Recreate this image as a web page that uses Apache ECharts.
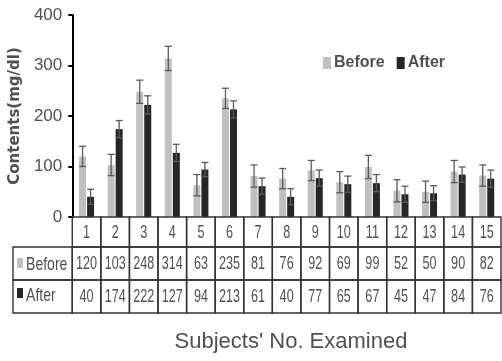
<!DOCTYPE html>
<html>
<head>
<meta charset="utf-8">
<script src="https://cdn.jsdelivr.net/npm/echarts@6/dist/echarts.min.js"></script>
<style>html,body{margin:0;padding:0;background:#fff;}#c{width:502px;height:361px;}</style>
</head>
<body>
<div id="c"></div>
<script>
const categories = ['1','2','3','4','5','6','7','8','9','10','11','12','13','14','15'];
const beforeValues = [120,103,248,314,63,235,81,76,92,69,99,52,50,90,82];
const afterValues = [40,174,222,127,94,213,61,40,77,65,67,45,47,84,76];
const beforeErrors = [20,21,23,24,21,20,22,20,20,21,23,22,21,22,21];
const afterErrors = [15,17,18,17,14,17,16,16,16,16,17,16,15,15,17];
const seriesNames = ['Before','After'];
const yMin = 0, yMax = 400, yInterval = 100;

const FONT = '"Liberation Sans", Arial, sans-serif';
const TXT = '#505050';
const BEFORE_COLOR = '#c0c0c0';
const AFTER_COLOR = '#262626';
const ERR_COLOR = '#5a5a5a';
const BORDER = '#333';

function errorSeries(name, values, errs, offset) {
  return {
    type: 'custom', name: name, silent: true, z: 5, clip: false,
    data: values.map((v, i) => [i, v - errs[i], v + errs[i]]),
    encode: { x: 0, y: [1, 2] },
    renderItem: function (params, api) {
      const i = api.value(0);
      const lo = api.coord([i, api.value(1)]);
      const hi = api.coord([i, api.value(2)]);
      const x = lo[0] + offset;
      const hw = 3.5;
      const st = { stroke: ERR_COLOR, lineWidth: 1.3 };
      return { type: 'group', children: [
        { type: 'line', shape: { x1: x, y1: lo[1], x2: x, y2: hi[1] }, style: st },
        { type: 'line', shape: { x1: x - hw, y1: lo[1], x2: x + hw, y2: lo[1] }, style: st },
        { type: 'line', shape: { x1: x - hw, y1: hi[1], x2: x + hw, y2: hi[1] }, style: st }
      ]};
    }
  };
}

function cellText(t, x, y, size, sx, align) {
  return {
    type: 'text', x: x, y: y, scaleX: sx, scaleY: 1,
    style: { text: t, x: 0, y: 0, align: align || 'center', verticalAlign: 'middle',
      fill: TXT, fontSize: size, fontFamily: FONT }
  };
}

const tableSeries = {
  type: 'custom', name: 'table', silent: true, clip: false, z: 4,
  data: categories.map((c, i) => [i, 0]),
  encode: { x: 0, y: 1 },
  renderItem: function (params, api) {
    const i = api.value(0);
    const base = api.coord([i, 0]);
    const w = api.size([1, 0])[0];
    const x0 = base[0] - w / 2;
    const y0 = base[1];
    const rows = [y0, y0 + 30, y0 + 63, y0 + 96];
    const cellStyle = { stroke: BORDER, lineWidth: 1.4, fill: null };
    const ch = [];
    for (let r = 0; r < 3; r++) {
      ch.push({ type: 'rect', shape: { x: x0, y: rows[r], width: w, height: rows[r + 1] - rows[r] }, style: cellStyle });
    }
    ch.push(cellText(categories[i], base[0], (rows[0] + rows[1]) / 2 + 1, 18, 0.7));
    ch.push(cellText(String(beforeValues[i]), base[0], (rows[1] + rows[2]) / 2 + 1, 18, 0.7));
    ch.push(cellText(String(afterValues[i]), base[0], (rows[2] + rows[3]) / 2 + 1, 18, 0.7));
    if (i === 0) {
      const lx = 13;
      for (let r = 1; r < 3; r++) {
        ch.push({ type: 'rect', shape: { x: lx, y: rows[r], width: x0 - lx, height: rows[r + 1] - rows[r] }, style: cellStyle });
      }
      ch.push({ type: 'rect', shape: { x: 17, y: rows[1] + 11, width: 6, height: 10 }, style: { fill: BEFORE_COLOR } });
      ch.push({ type: 'rect', shape: { x: 17, y: rows[2] + 8, width: 6, height: 10 }, style: { fill: AFTER_COLOR } });
      ch.push(cellText(seriesNames[0], 26, (rows[1] + rows[2]) / 2 + 1, 19, 0.74, 'left'));
      ch.push(cellText(seriesNames[1], 26, (rows[2] + rows[3]) / 2 - 1, 19, 0.74, 'left'));
    }
    return { type: 'group', children: ch };
  }
};

const chart = echarts.init(document.getElementById('c'), null, { renderer: 'canvas' });
chart.setOption({
  animation: false,
  backgroundColor: '#fff',
  textStyle: { fontFamily: FONT },
  title: {
    text: "Subjects' No. Examined", left: 286, top: 326, textAlign: 'center',
    textStyle: { color: TXT, fontSize: 22, fontWeight: 'normal', fontFamily: FONT }
  },
  legend: {
    data: seriesNames, left: 318, top: 50, itemWidth: 8, itemHeight: 12, itemGap: 12,
    icon: 'rect', textStyle: { color: TXT, fontSize: 16, fontWeight: 'bold', fontFamily: FONT, padding: [0, 0, 0, -2] }
  },
  grid: { left: 72, right: 1, top: 15, bottom: 144, containLabel: false },
  xAxis: {
    type: 'category', data: categories,
    axisLine: { show: false }, axisTick: { show: false }, axisLabel: { show: false }
  },
  yAxis: {
    type: 'value', min: yMin, max: yMax, interval: yInterval,
    name: 'Contents(mg/dl)', nameLocation: 'middle', nameGap: 46, nameRotate: 90,
    nameTextStyle: { color: TXT, fontSize: 15, fontWeight: 'bold', fontFamily: '"DejaVu Sans", sans-serif' },
    axisLine: { show: true, lineStyle: { color: '#000', width: 2 } },
    axisTick: { show: true, length: 4, lineStyle: { color: '#000', width: 2 } },
    axisLabel: { color: TXT, fontSize: 17, margin: 10, fontFamily: FONT },
    splitLine: { show: false }
  },
  series: [
    { type: 'bar', name: seriesNames[0], data: beforeValues, barWidth: 7, barGap: '15%', itemStyle: { color: BEFORE_COLOR }, z: 2 },
    { type: 'bar', name: seriesNames[1], data: afterValues, barWidth: 7, barGap: '15%', itemStyle: { color: AFTER_COLOR }, z: 2 },
    errorSeries('beforeErr', beforeValues, beforeErrors, -4),
    errorSeries('afterErr', afterValues, afterErrors, 4),
    tableSeries
  ]
});
</script>
</body>
</html>
